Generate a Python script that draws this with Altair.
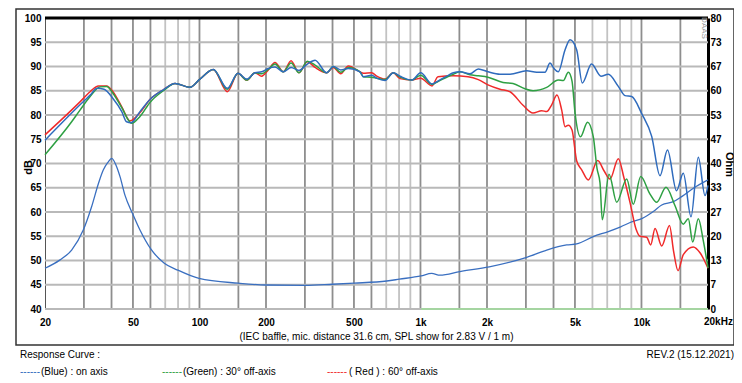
import altair as alt
import pandas as pd

# ---------------- data ----------------
blue_f = [20, 28.8, 32.0, 34.4, 37.0, 40.6, 44.5, 46.8, 49.0, 53.8, 59.7, 68.6, 77.5, 90.6, 100.5,
          115.5, 133.6, 149.4, 163.6, 178.3, 191.2, 204.8, 219.6, 239.6, 259.6, 282.1, 307.6, 333.4,
          376.6, 403.2, 435.6, 471.6, 532.6, 551.2, 601.6, 633.8, 691.2, 753.4, 808, 912.6, 1002,
          1128, 1200, 1314, 1408, 1509, 1675, 1827, 2021, 2290, 2542, 3024, 3358, 3660, 3856, 4020,
          4204, 4508, 4750, 5093, 5398, 5942, 6560, 7078, 7856, 8422, 9030, 10024, 11124, 12130,
          13116, 14408, 15462, 16756, 18078, 19384, 20000]
blue_db = [74.8, 82.1, 84.1, 85.5, 85.3, 83.4, 80.7, 78.6, 78.4, 80.7, 83.2, 85.2, 86.5, 85.7, 87.4,
           89.4, 85.5, 88.6, 87.4, 88.7, 88.9, 89.6, 89.9, 88.9, 89.8, 89.2, 90.5, 91.3,
           88.7, 90.0, 89.3, 89.6, 88.9, 87.9, 88.2, 87.6, 87.1, 88.7, 88.0, 87.2, 88.7,
           86.4, 87.0, 88.0, 88.7, 88.9, 88.5, 89.5, 88.9, 88.4, 88.4, 89.1, 88.8, 88.8, 90.7, 89.6,
           88.9, 93.4, 95.5, 93.4, 86.6, 90.5, 88.0, 88.4, 85.9, 84.0, 83.8, 80.3, 75.6, 67.5,
           72.8, 64.4, 68.0, 59.0, 71.3, 63.4, 65.5]

green_f = [20, 26.4, 28.8, 32.0, 35.5, 38.0, 40.6, 44.5, 49.3, 53.8, 59.7, 68.6, 77.5, 90.6, 100.5,
           115.5, 133.6, 149.4, 163.6, 178.3, 191.2, 204.8, 219.6, 239.6, 259.6, 282.1, 307.6, 333.4,
           376.6, 403.2, 435.6, 471.6, 532.6, 551.2, 601.6, 633.8, 691.2, 753.4, 808, 912.6, 1002,
           1128, 1200, 1408, 1509, 1675, 1827, 2021, 2364, 2622, 2972, 3230, 3726, 4204, 4429, 4666,
           4850, 5003, 5298, 5700, 6054, 6292, 6492, 6650, 7130, 7726, 8572, 9184, 9920, 10930,
           11722, 12914, 14184, 15462, 16292, 17056, 18078, 19042, 20000]
green_db = [71.8, 78.6, 81.0, 83.8, 85.8, 85.9, 84.5, 81.5, 78.3, 79.7, 82.6, 85.0, 86.5, 85.7, 87.4,
            89.4, 85.3, 88.6, 87.2, 88.7, 88.5, 89.4, 90.5, 88.9, 90.7, 88.7, 91.1, 90.3,
            88.7, 90.0, 88.8, 89.8, 88.9, 87.9, 87.8, 87.6, 87.3, 88.7, 87.8, 87.2, 88.2,
            86.3, 86.9, 88.4, 88.9, 88.3, 88.1, 87.8, 86.7, 86.5, 85.4, 85.0, 85.7, 87.2, 87.1, 88.8,
            87.0, 80.5, 75.5, 78.5, 75.5, 69.0, 66.0, 58.4, 67.8, 62.0, 66.8, 61.6, 67.3, 63.7,
            62.0, 65.1, 61.3, 57.5, 58.6, 53.8, 58.6, 54.1, 48.5]

red_f = [20, 28.8, 32.0, 34.9, 38.0, 40.6, 44.5, 48.5, 53.8, 59.7, 68.6, 77.5, 90.6, 100.5,
         115.5, 133.6, 149.4, 163.6, 178.3, 191.2, 204.8, 219.6, 239.6, 259.6, 282.1, 307.6, 333.4,
         376.6, 403.2, 435.6, 471.6, 532.6, 551.2, 601.6, 633.8, 691.2, 753.4, 808, 912.6, 1002,
         1128, 1200, 1408, 1641, 1827, 2021, 2290, 2542, 2911, 3230, 3537, 3726, 3924, 4147, 4356,
         4508, 4666, 4850, 5093, 5364, 5748, 6338, 6768, 7206, 7856, 8336, 8872, 9446, 9848, 10560,
         11010, 11516, 12348, 13394, 13964, 14636, 15462, 17162, 18402, 20000]
red_db = [75.9, 82.7, 84.8, 86.0, 86.0, 84.8, 81.7, 78.8, 80.5, 83.2, 85.2, 86.5, 85.7, 87.4,
          89.4, 84.8, 88.6, 87.2, 88.7, 88.0, 89.3, 90.8, 88.9, 91.2, 88.7, 91.0, 89.8,
          88.7, 89.8, 88.5, 90.1, 88.9, 88.6, 88.7, 88.0, 87.4, 88.7, 87.5, 87.2, 87.6,
          86.0, 87.9, 88.1, 87.9, 87.3, 86.2, 85.3, 84.8, 82.0, 80.4, 80.9, 80.7, 82.1, 84.1, 81.0,
          77.6, 77.9, 76.9, 70.5, 68.7, 66.6, 70.6, 68.5, 66.8, 71.0, 67.0, 62.0, 56.5, 55.0, 54.8,
          53.2, 56.6, 53.0, 57.2, 52.0, 47.9, 51.2, 52.8, 51.6, 48.4]

imp_f = [20, 23.4, 26.4, 29.8, 32.5, 34.9, 36.7, 38.5, 40.1, 42.0, 43.7, 46.0, 49.9, 53.8, 60.2,
         69.3, 79.7, 99.5, 150, 199.4, 300.2, 399, 501.8, 703.6, 802.2, 1006, 1124, 1225, 1509,
         2048, 3024, 3726, 4588, 5093, 6054, 7078, 8054, 9088, 10086, 11312, 12348, 13934, 15206,
         17162, 20000]
imp_ohm = [11.2, 13.5, 16.2, 21.7, 28.1, 34.5, 38.2, 40.3, 41.4, 39.4, 36.4, 31.3, 26.1, 21.7, 16.5,
           12.6, 10.7, 8.4, 7.1, 6.6, 6.5, 6.8, 7.1, 7.7, 8.2, 9.1, 9.8, 9.3, 10.3,
           11.6, 14.2, 16.2, 17.6, 17.9, 19.9, 21.3, 22.6, 24.0, 24.9, 26.8, 28.6, 29.5, 30.9,
           33.2, 35.5]

zero_f = [1006, 20000]
zero_ohm = [0, 0]

grid_dark = [30, 40, 50, 60, 100, 150, 200, 300, 400, 500, 600, 1000, 1500, 2000, 3000, 4000,
             5000, 10000, 15000]
grid_light = [70, 80, 90, 700, 800, 900, 6000, 7000, 8000, 9000]
grid_db = [40, 45, 50, 55, 60, 65, 70, 75, 80, 85, 90, 95]

x_ticks = [20, 50, 100, 200, 500, 1000, 2000, 5000, 10000]
db_ticks = [40, 45, 50, 55, 60, 65, 70, 75, 80, 85, 90, 95, 100]
ohm_ticks = [i * 80 / 12 for i in range(13)]

caption = "(IEC baffle, mic. distance 31.6 cm, SPL show for 2.83 V / 1 m)"
legend_names = ["(Blue)  : on axis", "(Green) : 30° off-axis", "( Red ) : 60° off-axis"]
legend_colors = ["#2f6bbd", "#2ea043", "#f02a2a"]

# ---------------- chart ----------------
W, H = 663, 291
FONT = "Liberation Sans"
NARROW = "Liberation Sans Narrow, Liberation Sans, Arial"

xscale = alt.Scale(type="log", domain=[20, 20000], nice=False)
xaxis = alt.Axis(values=x_ticks,
                 labelExpr="datum.value >= 1000 ? format(datum.value/1000, 'd') + 'k' : format(datum.value, 'd')",
                 grid=False, ticks=False, tickSize=0, domain=False, title=None,
                 labelFont=FONT, labelFontWeight="bold", labelFontSize=10, labelColor="black",
                 labelPadding=8, labelOverlap=False, labelFlush=False)
X = alt.X("f:Q", scale=xscale, axis=xaxis)

db_scale = alt.Scale(domain=[40, 100], nice=False, zero=False)
ohm_scale = alt.Scale(domain=[0, 80], nice=False, zero=False)

one = pd.DataFrame({"a": [0]})

vdark = alt.Chart(pd.DataFrame({"f": grid_dark})).mark_rule(color="#8e8e8e", strokeWidth=1.8).encode(x=X)
vlight = alt.Chart(pd.DataFrame({"f": grid_light})).mark_rule(color="#c2c2c2", strokeWidth=1.8).encode(x=X)
hgrid = alt.Chart(pd.DataFrame({"db": grid_db})).mark_rule(color="#b9b9b9", strokeWidth=1.8).encode(
    y=alt.Y("db:Q", scale=db_scale, axis=None))

imp = alt.Chart(pd.DataFrame({"f": imp_f, "ohm": imp_ohm})).mark_line(
    color="#3a6fc0", strokeWidth=1.3, interpolate="monotone").encode(
    x=X,
    y=alt.Y("ohm:Q", scale=ohm_scale,
            axis=alt.Axis(orient="right", values=ohm_ticks, format=".0f", grid=False, ticks=False,
                          domain=True, domainColor="black", domainWidth=3,
                          labelFont=FONT, labelFontWeight="bold", labelFontSize=10, labelColor="black",
                          labelPadding=2, title="Ohm", titleFont=FONT, titleFontWeight="bold",
                          titleFontSize=11, titleColor="black", titleAngle=90, titleX=20, titleY=146,
                          titleAlign="center", titleBaseline="middle")))
zero = alt.Chart(pd.DataFrame({"f": zero_f, "ohm": zero_ohm})).mark_line(
    color="#9fdf9a", strokeWidth=1.6).encode(x=X, y=alt.Y("ohm:Q", scale=ohm_scale, axis=None))

left_axis = alt.Axis(values=db_ticks, grid=False, ticks=False, domain=True, domainColor="#555555",
                     domainWidth=1, labelFont=FONT, labelFontWeight="bold", labelFontSize=10,
                     labelColor="black", labelPadding=4, title="dB", titleFont=FONT,
                     titleFontWeight="bold", titleFontSize=11, titleColor="black", titleAngle=-90,
                     titleX=-17, titleY=149, titleAlign="center", titleBaseline="middle")


def curve(fs, dbs, color, axis):
    return alt.Chart(pd.DataFrame({"f": fs, "db": dbs})).mark_line(
        color=color, strokeWidth=1.5, interpolate="monotone").encode(
        x=X, y=alt.Y("db:Q", scale=db_scale, axis=axis))


red = curve(red_f, red_db, legend_colors[2], left_axis)
green = curve(green_f, green_db, legend_colors[1], None)
blue = curve(blue_f, blue_db, legend_colors[0], None)

top_line = alt.Chart(one).mark_rule(color="black", strokeWidth=3).encode(
    x=alt.value(0), x2=alt.value(W), y=alt.value(0))
frame = alt.Chart(one).mark_rect(fillOpacity=0, stroke="#333333", strokeWidth=1.5).encode(
    x=alt.value(-29), x2=alt.value(689), y=alt.value(-9), y2=alt.value(327))

khz = alt.Chart(pd.DataFrame({"f": [20000], "t": ["20kHz"]})).mark_text(
    align="left", baseline="top", dx=-4, font=FONT, fontWeight="bold", fontSize=10, color="black").encode(
    x=X, y=alt.value(H + 8), text="t:N")


def label(txt, x, y, align="left", size=10, color="black", font=NARROW, angle=0):
    return alt.Chart(one).mark_text(align=align, baseline="middle", font=font, fontSize=size,
                                    color=color, angle=angle).encode(
        x=alt.value(x), y=alt.value(y), text=alt.value(txt))


texts = [
    label(caption, W / 2, 319, align="center", size=10),
    label("Response Curve :", -25, 337),
    label("REV.2 (15.12.2021)", 689, 337, align="right"),
    label("------", -25, 354, color=legend_colors[0]),
    label(legend_names[0], -4, 354),
    label("------", 117, 354, color=legend_colors[1]),
    label(legend_names[1], 138, 354),
    label("------", 282, 354, color=legend_colors[2]),
    label(legend_names[2], 304, 354),
    label("DAAS", 659, 10, align="center", size=8, color="#999999", font=FONT, angle=90),
]

chart = alt.layer(
    vlight, vdark, hgrid, zero, imp, red, green, blue, top_line, frame, khz, *texts
).resolve_scale(y="independent").properties(
    width=W, height=H,
    padding={"left": 37, "top": 10, "right": 26, "bottom": 74},
    autosize=alt.AutoSizeParams(type="none"),
).configure_view(stroke=None).configure(background="white")

chart.save("out.html", embed_options={"renderer": "svg", "actions": False})
